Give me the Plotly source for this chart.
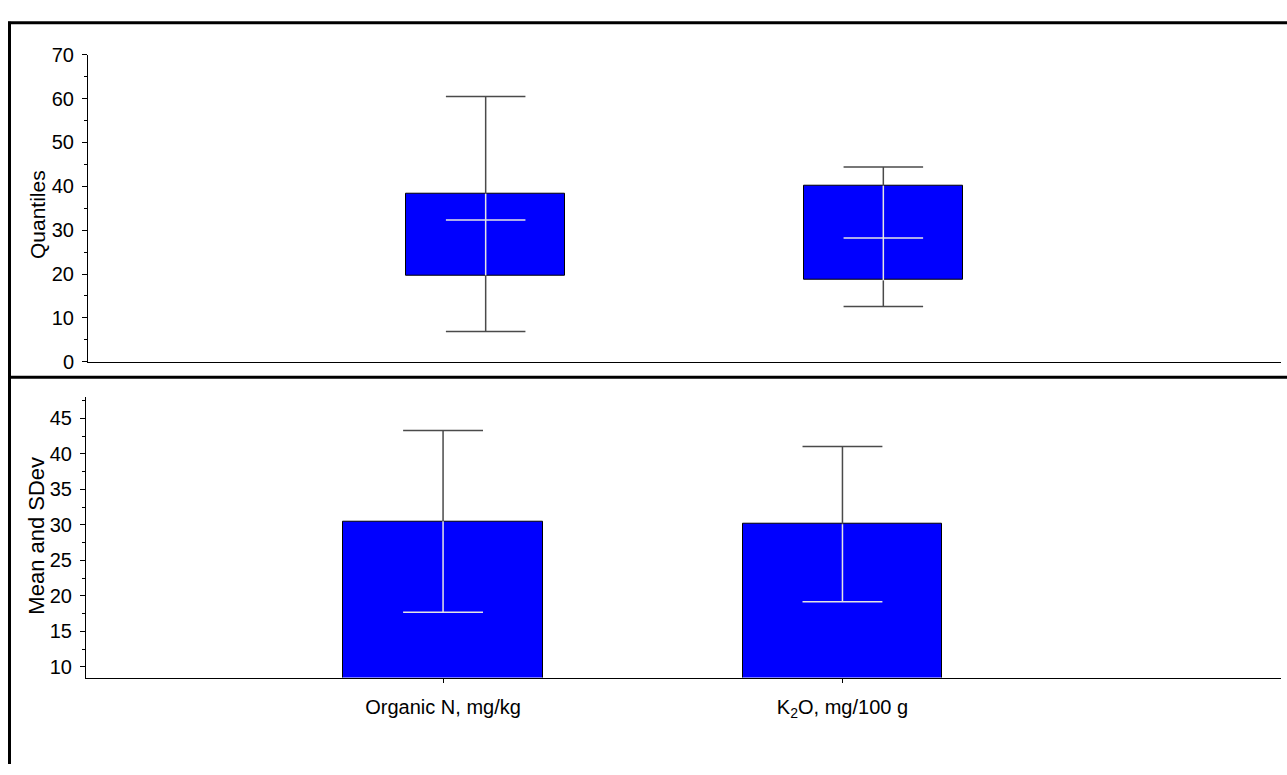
import plotly.graph_objects as go

# ---------------- data ----------------
categories = ["Organic N, mg/kg", "K<sub>2</sub>O, mg/100 g"]
positions = [0, 1]

# top panel: quantiles (box plot)
q_lower = [6.9, 12.6]
q1 = [19.7, 18.6]
q_median = [32.3, 28.2]
q3 = [38.3, 40.1]
q_upper = [60.5, 44.4]

# bottom panel: mean and standard deviation
means = [30.5, 30.1]
sdevs = [12.8, 10.95]

W = 1287
H = 775
FONT = "Liberation Sans, Arial, sans-serif"
BLUE = "#0000FF"
DARK = "#4a4a4a"
LIGHT = "#e4e4e4"


def py(px):
    """Convert a pixel row (from the top of the page) to paper y."""
    return (H - px) / H


def segments(xs, y0s, y1s, caps_at, cap_hw):
    """Vertical segments from y0 to y1 with a horizontal cap at caps_at."""
    X, Y = [], []
    for x, a, b, c in zip(xs, y0s, y1s, caps_at):
        X += [x, x, None, x - cap_hw, x + cap_hw, None]
        Y += [a, b, None, c, c, None]
    return X, Y


fig = go.Figure()

# ---------- top panel ----------
fig.add_trace(go.Bar(
    x=positions, y=[b - a for a, b in zip(q1, q3)], base=q1, width=0.4,
    marker=dict(color=BLUE, line=dict(color="black", width=1)),
    xaxis="x", yaxis="y", showlegend=False, hoverinfo="skip"))

ux, uy = segments(positions, q3, q_upper, q_upper, 0.1)
lx, ly = segments(positions, q1, q_lower, q_lower, 0.1)
fig.add_trace(go.Scatter(x=ux + lx, y=uy + ly, mode="lines",
                         line=dict(color=DARK, width=1.5),
                         xaxis="x", yaxis="y", showlegend=False, hoverinfo="skip"))
ix, iy = segments(positions, q1, q3, q_median, 0.1)
fig.add_trace(go.Scatter(x=ix, y=iy, mode="lines",
                         line=dict(color=LIGHT, width=1.5),
                         xaxis="x", yaxis="y", showlegend=False, hoverinfo="skip"))

# ---------- bottom panel ----------
fig.add_trace(go.Bar(
    x=positions, y=means, width=0.5,
    marker=dict(color=BLUE, line=dict(color="black", width=1)),
    xaxis="x2", yaxis="y2", showlegend=False, hoverinfo="skip"))

up = [m + s for m, s in zip(means, sdevs)]
dn = [m - s for m, s in zip(means, sdevs)]
dx, dy = segments(positions, means, up, up, 0.1)
fig.add_trace(go.Scatter(x=dx, y=dy, mode="lines",
                         line=dict(color=DARK, width=1.5),
                         xaxis="x2", yaxis="y2", showlegend=False, hoverinfo="skip"))
wx, wy = segments(positions, dn, means, dn, 0.1)
fig.add_trace(go.Scatter(x=wx, y=wy, mode="lines",
                         line=dict(color=LIGHT, width=1.5),
                         xaxis="x2", yaxis="y2", showlegend=False, hoverinfo="skip"))

axis_common = dict(showgrid=False, zeroline=False, showline=True,
                   linecolor="black", linewidth=1, tickcolor="black",
                   tickfont=dict(family=FONT, size=20, color="black"))

fig.update_layout(
    width=W, height=H,
    margin=dict(l=0, r=0, t=0, b=0),
    paper_bgcolor="white", plot_bgcolor="white",
    font=dict(family=FONT, color="black"),
    bargap=0,
    xaxis=dict(domain=[88 / W, 1281 / W], range=[-1, 2], anchor="y",
               showticklabels=False, ticks="", **axis_common),
    yaxis=dict(domain=[py(361), py(45)], range=[0, 70], anchor="x",
               tick0=0, dtick=10, ticks="outside", ticklen=5, ticklabelstandoff=4,
               minor=dict(ticks="outside", ticklen=3, dtick=5, tick0=0, tickcolor="black"),
               **axis_common),
    xaxis2=dict(domain=[86 / W, 1281 / W], range=[-0.894, 2.098], anchor="y2",
                tickvals=positions, ticktext=categories, ticks="outside", ticklen=4,
                ticklabelstandoff=7, **axis_common),
    yaxis2=dict(domain=[py(686), py(397)], range=[8.49, 48.05], anchor="x2",
                tick0=10, dtick=5, ticks="outside", ticklen=5, ticklabelstandoff=4,
                minor=dict(ticks="outside", ticklen=3, dtick=2.5, tick0=10, tickcolor="black"),
                **axis_common),
    annotations=[
        dict(text="Quantiles", x=37 / W, y=py(210), xref="paper", yref="paper",
             textangle=-90, showarrow=False, xanchor="center", yanchor="middle",
             font=dict(family=FONT, size=21, color="black")),
        dict(text="Mean and SDev", x=37 / W, y=py(540), xref="paper", yref="paper",
             textangle=-90, showarrow=False, xanchor="center", yanchor="middle",
             font=dict(family=FONT, size=22, color="black")),
    ],
    shapes=[
        dict(type="line", xref="paper", yref="paper", x0=9.5 / W, x1=9.5 / W,
             y0=0, y1=py(11), line=dict(color="black", width=3)),
        dict(type="line", xref="paper", yref="paper", x0=8 / W, x1=1,
             y0=py(12), y1=py(12), line=dict(color="black", width=3)),
        dict(type="line", xref="paper", yref="paper", x0=8 / W, x1=1,
             y0=py(377), y1=py(377), line=dict(color="black", width=3)),
    ],
)

fig.write_html("out.html")
